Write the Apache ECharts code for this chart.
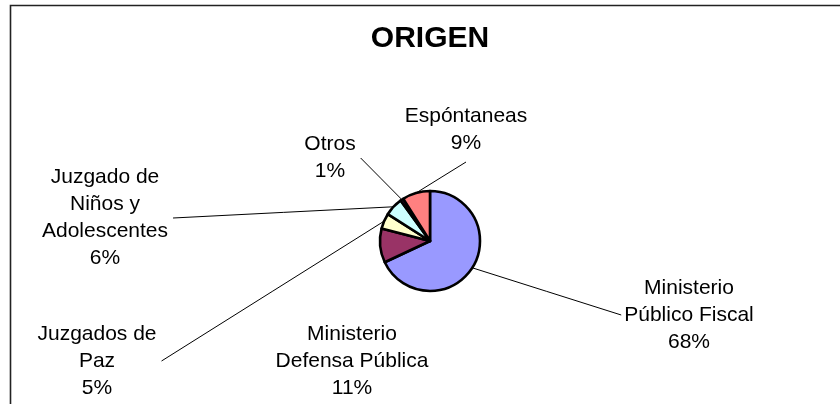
<!DOCTYPE html>
<html>
<head>
<meta charset="utf-8">
<script src="https://cdn.jsdelivr.net/npm/echarts@6/dist/echarts.min.js"></script>
<style>html,body{margin:0;padding:0;background:#fff}#c{width:840px;height:404px}</style>
</head>
<body>
<div id="c"></div>
<script>
// Data
var categories = ['Ministerio\nPúblico Fiscal', 'Ministerio\nDefensa Pública', 'Juzgados de\nPaz', 'Juzgado de\nNiños y\nAdolescentes', 'Otros', 'Espóntaneas'];
var values = [68, 11, 5, 6, 1, 9];
var colors = ['#9999FF', '#993366', '#FFFFCC', '#CCFFFF', '#660066', '#FF8080'];

// Label layout (text block centres and the side where the leader line attaches)
var labelPos = [[689, 315], [352, 361], [97, 361], [105, 218], [330, 158], [466, 130]];
var lineSide = ['left', null, 'right', 'right', 'right', 'bottom'];

var chart = echarts.init(document.getElementById('c'));
var data = categories.map(function (n, i) {
  return {
    name: n, value: values[i],
    itemStyle: { color: colors[i] },
    labelLine: { show: lineSide[i] !== null }
  };
});
chart.setOption({
  animation: false,
  backgroundColor: '#fff',
  title: {
    text: 'ORIGEN', left: 425, top: 19, textAlign: 'center',
    textStyle: { fontFamily: 'Liberation Sans', fontSize: 30, fontWeight: 'bold', color: '#000' }
  },
  graphic: [{
    type: 'polyline', silent: true,
    shape: { points: [[10.5, 404], [10.5, 5.5], [840, 5.5]] },
    style: { stroke: '#222', lineWidth: 1.6, fill: null }
  }],
  series: [{
    type: 'pie',
    center: [430, 241],
    radius: 50,
    startAngle: 90,
    clockwise: true,
    percentPrecision: 0,
    avoidLabelOverlap: false,
    itemStyle: { borderColor: '#000', borderWidth: 2.6 },
    label: {
      show: true, position: 'outside',
      formatter: '{b}\n{d}%',
      fontFamily: 'Liberation Sans', fontSize: 21, lineHeight: 27,
      color: '#000', align: 'center'
    },
    labelLine: { show: true, lineStyle: { color: '#000', width: 1 }, smooth: false },
    labelLayout: function (p) {
      var i = p.dataIndex;
      var pos = labelPos[i];
      var w = p.labelRect.width, h = p.labelRect.height;
      var res = { x: pos[0], y: pos[1], align: 'center', verticalAlign: 'middle' };
      var side = lineSide[i];
      if (side && p.labelLinePoints) {
        var s = p.labelLinePoints[0];
        var e;
        if (side === 'left') e = [pos[0] - w / 2 - 3, pos[1]];
        else if (side === 'right') e = [pos[0] + w / 2 + 5, pos[1]];
        else e = [pos[0], pos[1] + h / 2 + 5];
        res.labelLinePoints = [s, [(s[0] + e[0]) / 2, (s[1] + e[1]) / 2], e];
      }
      return res;
    },
    data: data
  }]
});
</script>
</body>
</html>
